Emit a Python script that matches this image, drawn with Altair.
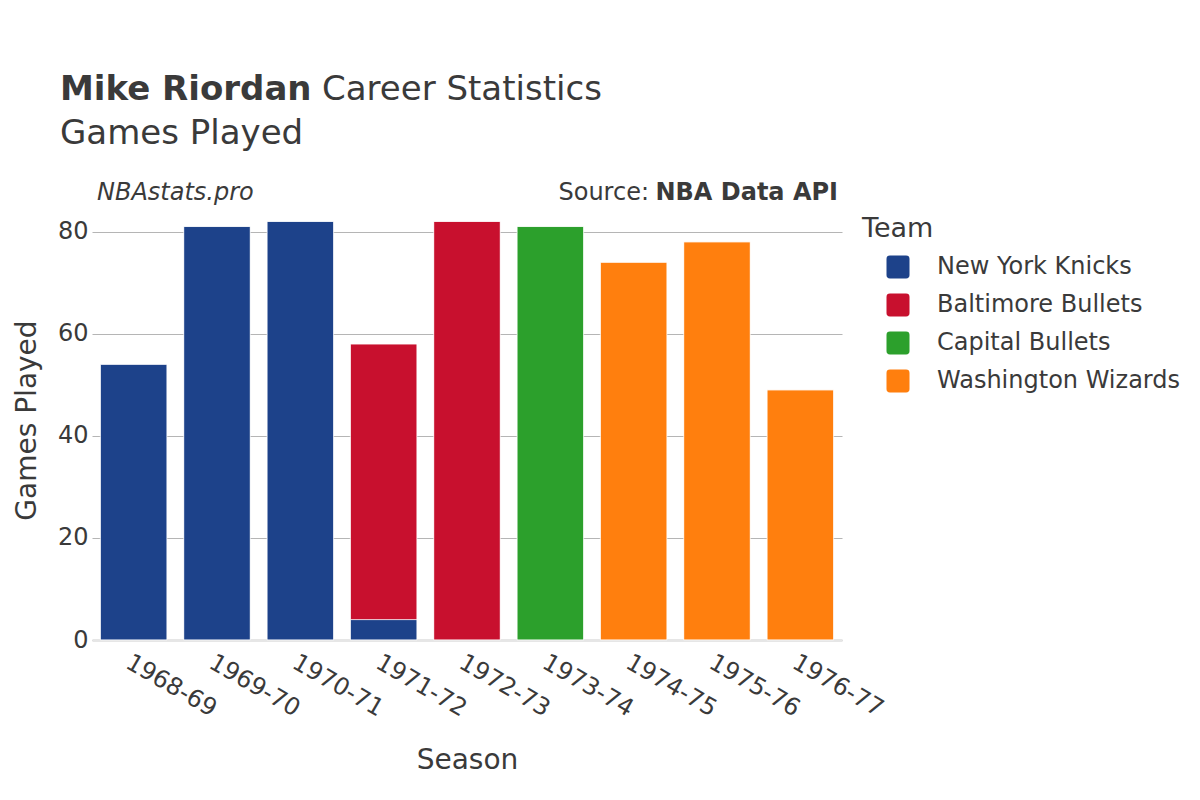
import altair as alt
import pandas as pd

seasons = ["1968-69", "1969-70", "1970-71", "1971-72", "1971-72",
           "1972-73", "1973-74", "1974-75", "1975-76", "1976-77"]
teams = ["New York Knicks", "New York Knicks", "New York Knicks", "New York Knicks",
         "Baltimore Bullets", "Baltimore Bullets", "Capital Bullets",
         "Washington Wizards", "Washington Wizards", "Washington Wizards"]
games = [54, 81, 82, 4, 54, 82, 81, 74, 78, 49]
is_top = [1, 1, 1, 0, 1, 1, 1, 1, 1, 1]

team_order = ["New York Knicks", "Baltimore Bullets", "Capital Bullets", "Washington Wizards"]
team_colors = ["#1D428A", "#C8102E", "#2CA02C", "#FF7F0E"]
season_order = ["1968-69", "1969-70", "1970-71", "1971-72", "1972-73",
                "1973-74", "1974-75", "1975-76", "1976-77"]
y_ticks = [0, 20, 40, 60, 80]

df = pd.DataFrame({
    "Season": seasons,
    "Team": teams,
    "Games": games,
    "top": is_top,
    "ord": [team_order.index(t) for t in teams],
})

FONT = "DejaVu Sans"
TXT = "#3a3a3a"

rounded = "M-0.7,-1 H0.7 Q1,-1 1,-0.7 V0.7 Q1,1 0.7,1 H-0.7 Q-1,1 -1,0.7 V-0.7 Q-1,-1 -0.7,-1 Z"

bars = alt.Chart(df).mark_bar(
    cornerRadiusTopLeft=alt.ExprRef("datum.top ? 5 : 0"),
    cornerRadiusTopRight=alt.ExprRef("datum.top ? 5 : 0"),
    stroke="white", strokeWidth=0.6,
).encode(
    x=alt.X("Season:N", sort=season_order,
            scale=alt.Scale(paddingInner=0.2, paddingOuter=0.1),
            axis=alt.Axis(title="Season", labelAngle=30, labelAlign="left",
                          labelBaseline="top", labelFontSize=24, labelPadding=10,
                          labelColor=TXT, ticks=False, domainColor="#e6e6e6",
                          domainWidth=3, titleFontSize=28, titleFontWeight="normal",
                          titleColor=TXT, titleY=120, titleBaseline="middle",
                          labelFont=FONT, titleFont=FONT, zindex=0)),
    y=alt.Y("Games:Q", stack="zero",
            scale=alt.Scale(domain=[0, 86], nice=False),
            axis=alt.Axis(title="Games Played", values=y_ticks, labelFontSize=24,
                          labelColor=TXT, ticks=False,
                          labelPadding=4, gridColor="#b5b5b5", gridWidth=1,
                          domain=False, titleFontSize=28, titleFontWeight="normal",
                          titleColor=TXT, titleX=-65, titleY=219, titleAngle=-90,
                          titleBaseline="middle", labelFont=FONT, titleFont=FONT)),
    color=alt.Color("Team:N", scale=alt.Scale(domain=team_order, range=team_colors),
                    legend=alt.Legend(title=None, orient="none", legendX=794, legendY=54,
                                      symbolType=rounded, symbolSize=529,
                                      symbolStrokeWidth=0, labelFontSize=24,
                                      labelColor=TXT, labelFont=FONT, labelOffset=27,
                                      labelLimit=0, rowPadding=14, padding=0)),
    order=alt.Order("ord:Q"),
)

def txt(s, x, y, size, weight="normal", style="normal", align="left"):
    return alt.Chart(pd.DataFrame({"t": [s]})).mark_text(
        font=FONT, fontSize=size, fontWeight=weight, fontStyle=style,
        align=align, baseline="alphabetic", color=TXT,
    ).encode(text="t:N", x=alt.value(x), y=alt.value(y))

title_bold = txt("Mike Riordan", -32, -101, 34, weight="bold")
title_rest = txt("Career Statistics", 230, -101, 34)
subtitle = txt("Games Played", -32, -57, 34)
credit = txt("NBAstats.pro", 5, -1, 24, style="italic")
source_b = txt("NBA Data API", 746, -1, 24, weight="bold", align="right")
source_n = txt("Source:", 557, -1, 24, align="right")
legend_title = txt("Team", 770, 36, 27)

chart = alt.layer(
    bars, title_bold, title_rest, subtitle, credit, source_b, source_n, legend_title
).properties(
    width=750, height=439,
    autosize=alt.AutoSizeParams(type="none"),
    padding={"left": 84, "top": 193, "right": 340, "bottom": 152},
).configure_view(stroke=None)

chart.save("out.html", embed_options={"renderer": "svg", "actions": False})
